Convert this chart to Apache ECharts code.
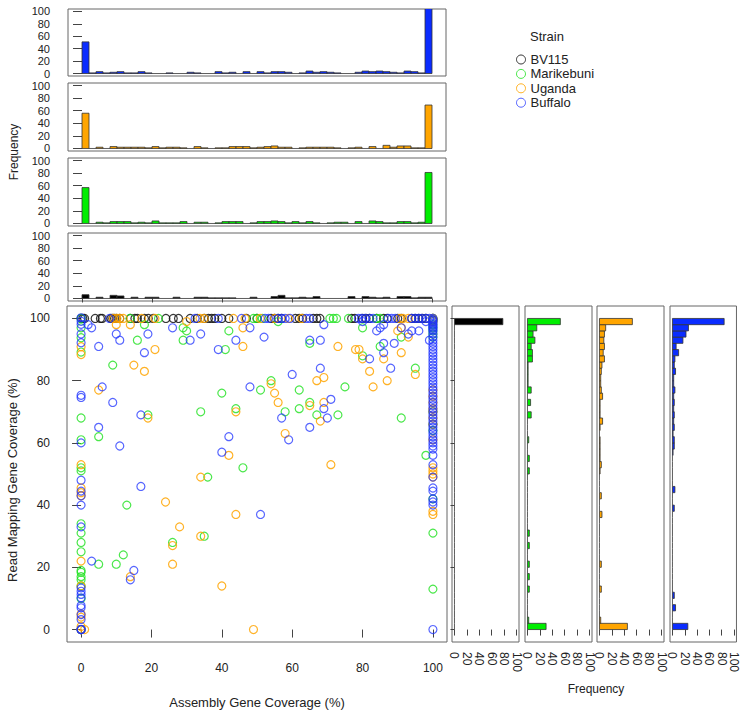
<!DOCTYPE html>
<html><head><meta charset="utf-8">
<script src="https://cdn.jsdelivr.net/npm/echarts@6.0.0/dist/echarts.min.js"></script>
<style>html,body{margin:0;padding:0;background:#fff}#c{width:740px;height:711px}</style>
</head><body><div id="c"></div>
<script>
// ---------------- DATA ----------------
const strains = ['BV115', 'Marikebuni', 'Uganda', 'Buffalo'];
const tickValues = [0, 20, 40, 60, 80, 100];
const binEdges = [0,2,4,6,8,10,12,14,16,18,20,22,24,26,28,30,32,34,36,38,40,42,44,46,48,50,52,54,56,58,60,62,64,66,68,70,72,74,76,78,80,82,84,86,88,90,92,94,96,98,100];

// Histograms of assembly gene coverage (top panels), 50 bins of width 2
const topBuffalo    = [51,1,3,1,2,3,1,1,3,1, 0,0,1,0,0,2,1,0,0,3, 1,2,0,3,0,3,1,3,3,2, 0,1,4,2,3,2,1,0,0,2, 4,3,4,3,2,1,4,3,1,110];
const topUganda     = [56,0,2,0,3,2,2,2,2,1, 3,1,2,2,1,0,3,1,0,1, 1,3,3,3,1,2,3,4,2,2, 0,1,2,2,2,2,1,0,1,2, 0,3,0,5,2,4,4,1,1,69];
const topMarikebuni = [57,0,2,1,3,3,3,1,2,1, 4,1,1,1,3,0,2,2,0,1, 3,3,3,0,1,3,3,4,3,1, 3,1,3,1,0,1,2,2,0,3, 0,4,3,1,1,3,3,1,2,81];
const topBV115      = [6,0,2,0,5,4,0,2,0,2, 2,0,0,2,0,0,2,2,1,1, 1,1,0,0,2,0,0,3,5,1, 1,2,1,3,0,0,0,0,3,0, 3,2,1,2,0,3,3,1,2,2];

// Histograms of read mapping gene coverage (right panels), 50 bins of width 2
const rightBV115      = [0,0,0,0,0,0,0,0,0,0, 0,0,0,0,0,0,0,0,0,0, 0,0,0,0,0,0,0,0,0,0, 0,0,0,0,0,0,0,0,0,0, 0,0,0,0,0,0,0,0,0,78];
const rightMarikebuni = [30,2,0,0,0,0,3,0,3,0, 3,0,0,3,0,3,0,0,0,0, 0,0,0,0,0,3,0,3,0,0, 2,0,0,0,6,0,5,0,6,1, 1,1,1,8,8,6,12,9,15,53];
const rightUganda     = [45,2,0,0,0,0,3,0,0,0, 3,0,0,0,0,0,0,0,4,0, 0,3,0,0,0,1,3,1,1,1, 1,0,1,5,1,1,1,5,3,2, 2,3,4,8,6,8,7,8,10,53];
const rightBuffalo    = [25,0,0,5,0,3,0,0,0,0, 0,0,0,0,0,0,0,0,0,3, 0,0,4,0,0,0,0,0,1,3, 3,1,3,2,3,2,3,2,4,2, 2,5,3,4,10,6,17,22,26,84];

// Scatter points [assembly coverage, read mapping coverage]
const bv115Points = [[0,100],[0.5,100],[1,100],[4,100],[5.5,100],[6,100],[8.5,100],[9,100],[9.5,100],[10,100],[11,100],[14,100],[15.3,100],[16,100],[18,100],[19.1,100],[20.5,100],[24.1,100],[26.2,100],[27.7,100],[31,100],[33,100],[35,100],[36.2,100],[37.1,100],[38,100],[40,100],[42,100],[47,100],[50,100],[54,100],[55,100],[56,100],[57,100],[60.9,100],[62,100],[63,100],[66,100],[67,100],[67.9,100],[76.9,100],[77.8,100],[80,100],[81,100],[82,100],[84,100],[86,100],[87,100],[90,100],[91,100],[94,100],[95,100],[96,100],[97,100],[98,100],[100,100],[100,99.5]];

const marikebuniPoints = [[0,100],[0,97],[0,93.8],[0,89.2],[0,68],[0,61],[0,52],[0,51],[0,34],[0,31],[0,28],[0,25],[0,19],[0,18.4],[0,17],[0,16],[0,14],[0,10],[0,0],[0,0],
 [13.9,100],[22,100],[49,100],[50,100],[51.5,100],[70.7,100],[71.7,100],[72.6,100],[76,100],[84,100],[85,100],
 [9,85],[18,98],[16,93],[19,69],[29,97],[30,96],[29,93],[34,70],[36,49],[41,90],[40,76],[42,96],[44,71],[46,52],[51,77],[54,80],[56,99],[62,77],[62,71],[58,70],[65,92],[65,73],[67,69],[73,69],[75,78],[80,88],[80,97],[85,91],[91,68],[91,94],[95,84],[98,56],[5,62],[13,40],[35,30],[26,28],[12,24],[5,21],[10,21],
 [100,100],[100,99],[100,98],[100,97],[100,96],[100,95],[100,94],[100,70],[100,66],[100,64],[100,42],[100,31],[100,13]];

const ugandaPoints = [[0,90.9],[0,88.4],[0,53],[0,45.5],[0,44],[0,43],[0,22],[0,14],[0,5],[0,4],[0,1],[0,0],[0,0],[1,0],
 [9.2,100],[10.2,100],[11,100],[12,100],[17.2,100],[21,100],[33.8,100],[35,100],[43.3,100],[46.6,100],[50.9,100],[55,100],[58.9,100],[62.7,100],[90.6,100],[91.5,100],[93,100],
 [10,98],[14,98],[5,77],[15,85],[18,83],[21,90],[19,68],[30,99],[34,49],[46,91],[46,97],[42,56],[44,70],[54,79],[55,76],[56,73],[58,63],[67,80],[69,81],[65,72],[69,73],[68,67],[73,91],[71,53],[78,90],[79,90],[80,87],[82,83],[83,78],[87,80],[86,87],[91,89],[90,96],[91,97],[93,94],[95,82],[24,41],[44,37],[28,33],[34,30],[26,27],[26,21],[14,17],[40,14],[49,0],
 [100,100],[100,99],[100,77],[100,75],[100,73],[100,71],[100,70],[100,68],[100,66],[100,61],[100,52],[100,51],[100,50],[100,49],[100,38],[100,37]];

const buffaloPoints = [[0,100.2],[0,99.1],[0,98.1],[0,95],[0,92.2],[0,75.3],[0,74.6],[0,60],[0,48],[0,44.5],[0,43],[0,40],[0,33],[0,13.4],[0,12.3],[0,11.3],[0,10.2],[0,7.7],[0,7],[0,4.8],[0,3.2],[0,0],[0,0],[0,0],
 [8.1,100],[32.4,100],[39,100],[45.6,100],[52.3,100],[53.3,100],[56,100],[57,100],[58,100],[59.4,100],[64,100],[65,100],[78.8,100],[79.7,100],[80.7,100],[82,100],[83,100],[87.3,100],[88.3,100],[89.3,100],[93.9,100],[94.9,100],[95.9,100],[96.8,100],[98,100],[99,100],
 [2,98],[3,97],[5,91],[6,78],[9,73],[5,65],[11,59],[10,95],[11,93],[18,89],[19,95],[17,69],[17,46],[26,97],[31,93],[34,95],[39,90],[44,93],[48,97],[42,62],[40,57],[48,78],[52,94],[60,82],[57,68],[59,61],[65,93],[68,93],[69,98],[68,84],[69,71],[71,74],[70,68],[65,65],[80,99],[82,87],[88,84],[84,96],[85,97],[86,98],[86,92],[86,89],[89,92],[91,97],[93,95],[94,96],[96,96],[98,99],[99,93],[51,37],[3,22],[15,19],[14,16],
 [100,100],[100,99.5],[100,99],[100,98.5],[100,98],[100,97.5],[100,97],[100,96.5],[100,96],[100,95],[100,94],[100,93],[100,92],[100,91],[100,90],[100,89],[100,88],[100,87],[100,86],[100,85],[100,84],[100,83],[100,82],[100,81],[100,80],[100,79],[100,78],[100,77],[100,76],[100,75],[100,74],[100,73],[100,72],[100,71],[100,70],[100,69],[100,68],[100,67],[100,66],[100,65],[100,64],[100,63],[100,62],[100,61],[100,60],[100,59],[100,58],[100,56],[100,53],[100,49],[100,45.5],[100,44.5],[100,42],[100,41],[100,40],[100,0]];

// ---------------- STYLE ----------------
const FONT = "'Liberation Sans', Arial, Helvetica, sans-serif";
const TXT = '#222';
const barColors = {BV115: '#000000', Marikebuni: '#00ee00', Uganda: '#ffa500', Buffalo: '#0a2cff'};
const ptColors = {BV115: 'rgba(20,20,20,0.85)', Marikebuni: 'rgba(30,225,30,0.8)', Uganda: 'rgba(255,165,0,0.85)', Buffalo: 'rgba(30,50,255,0.75)'};

const chart = echarts.init(document.getElementById('c'), null, {renderer: 'svg'});

const grids = [
  {left: 68, top: 9, width: 378, height: 67},
  {left: 68, top: 83, width: 378, height: 68},
  {left: 68, top: 158, width: 378, height: 68},
  {left: 68, top: 233, width: 378, height: 68},
  {left: 67, top: 306, width: 380, height: 336},
  {left: 452, top: 306, width: 67, height: 336},
  {left: 525, top: 306, width: 67, height: 336},
  {left: 597, top: 306, width: 67, height: 336},
  {left: 670, top: 306, width: 67, height: 336}
].map(g => Object.assign({show: true, borderColor: '#666', borderWidth: 1, backgroundColor: 'transparent'}, g));

function axis(gridIndex, extra) {
  return Object.assign({
    type: 'value', gridIndex: gridIndex, min: -4, max: 104,
    axisLine: {show: false}, splitLine: {show: false},
    axisTick: {show: false}, axisLabel: {show: false}
  }, extra || {});
}
const ticks = len => ({show: true, length: len, customValues: tickValues, lineStyle: {color: '#444', width: 1}});
const labels = extra => Object.assign({show: true, customValues: tickValues, color: TXT, fontSize: 12, fontFamily: FONT}, extra || {});
const topLabels = () => labels({margin: 18, fontSize: 11, lineHeight: 10});

const xAxes = [
  axis(0), axis(1), axis(2),
  axis(3, {axisTick: ticks(4)}),
  axis(4, {axisTick: ticks(8), axisLabel: labels({margin: 20})}),
  axis(5, {axisTick: ticks(6), axisLabel: labels({rotate: -90, margin: 10})}),
  axis(6, {axisTick: ticks(6), axisLabel: labels({rotate: -90, margin: 10})}),
  axis(7, {axisTick: ticks(6), axisLabel: labels({rotate: -90, margin: 10})}),
  axis(8, {axisTick: ticks(6), axisLabel: labels({rotate: -90, margin: 10})})
];
const yAxes = [
  axis(0, {axisTick: ticks(9), axisLabel: topLabels()}),
  axis(1, {axisTick: ticks(9), axisLabel: topLabels()}),
  axis(2, {axisTick: ticks(9), axisLabel: topLabels()}),
  axis(3, {axisTick: ticks(9), axisLabel: topLabels()}),
  axis(4, {axisTick: ticks(9), axisLabel: labels({margin: 17})}),
  axis(5, {axisTick: ticks(4)}),
  axis(6), axis(7), axis(8)
];

function histData(counts) {
  return counts.map((c, i) => [binEdges[i], binEdges[i + 1], c]);
}
const outline = {stroke: '#333', lineWidth: 0.8};
function vHist(name, counts, idx) {
  const color = barColors[name];
  return {
    type: 'custom', name: 'top-' + name, xAxisIndex: idx, yAxisIndex: idx, clip: true,
    data: histData(counts), silent: true,
    renderItem: function (params, api) {
      const p0 = api.coord([api.value(0), api.value(2)]);
      const p1 = api.coord([api.value(1), 0]);
      if (api.value(2) === 0) {
        return {type: 'line', shape: {x1: p0[0], y1: p1[1], x2: p1[0], y2: p1[1]}, style: outline};
      }
      return {type: 'rect', shape: {x: p0[0], y: p0[1], width: p1[0] - p0[0], height: p1[1] - p0[1]},
        style: Object.assign({fill: color}, outline)};
    }
  };
}
function hHist(name, counts, idx) {
  const color = barColors[name];
  return {
    type: 'custom', name: 'right-' + name, xAxisIndex: idx, yAxisIndex: idx, clip: true,
    data: histData(counts), silent: true,
    renderItem: function (params, api) {
      const p0 = api.coord([0, api.value(1)]);
      const p1 = api.coord([api.value(2), api.value(0)]);
      if (api.value(2) === 0) {
        return {type: 'line', shape: {x1: p0[0], y1: p0[1], x2: p0[0], y2: p1[1]}, style: outline};
      }
      return {type: 'rect', shape: {x: p0[0], y: p0[1], width: p1[0] - p0[0], height: p1[1] - p0[1]},
        style: Object.assign({fill: color}, outline)};
    }
  };
}
function scatter(name, pts) {
  return {
    type: 'scatter', name: name, xAxisIndex: 4, yAxisIndex: 4, data: pts,
    symbol: 'circle', symbolSize: 8,
    itemStyle: {color: 'rgba(0,0,0,0)', borderColor: ptColors[name], borderWidth: 1.2, opacity: 1},
    emphasis: {disabled: true}
  };
}

const option = {
  animation: false,
  backgroundColor: '#fff',
  textStyle: {fontFamily: FONT},
  title: {text: 'Strain', left: 530, top: 30, padding: 0,
    textStyle: {fontSize: 13, fontWeight: 'normal', color: TXT, fontFamily: FONT}},
  legend: {
    orient: 'vertical', left: 516, top: 53, padding: 0,
    itemWidth: 9, itemHeight: 9, itemGap: 1.4,
    data: strains,
    itemStyle: {borderWidth: 1},
    textStyle: {fontSize: 13, color: TXT, fontFamily: FONT},
    selectedMode: false
  },
  grid: grids,
  xAxis: xAxes,
  yAxis: yAxes,
  graphic: [
    {type: 'text', x: 14, y: 152, rotation: Math.PI / 2,
      style: {text: 'Frequency', fill: TXT, font: '12px ' + FONT, align: 'center', verticalAlign: 'middle'}},
    {type: 'text', x: 12, y: 480, rotation: Math.PI / 2,
      style: {text: 'Read Mapping Gene Coverage (%)', fill: TXT, font: '13px ' + FONT, align: 'center', verticalAlign: 'middle'}},
    {type: 'text', x: 257, y: 702,
      style: {text: 'Assembly Gene Coverage (%)', fill: TXT, font: '13px ' + FONT, align: 'center', verticalAlign: 'middle'}},
    {type: 'text', x: 596, y: 689,
      style: {text: 'Frequency', fill: TXT, font: '12px ' + FONT, align: 'center', verticalAlign: 'middle'}}
  ],
  series: [
    vHist('Buffalo', topBuffalo, 0),
    vHist('Uganda', topUganda, 1),
    vHist('Marikebuni', topMarikebuni, 2),
    vHist('BV115', topBV115, 3),
    hHist('BV115', rightBV115, 5),
    hHist('Marikebuni', rightMarikebuni, 6),
    hHist('Uganda', rightUganda, 7),
    hHist('Buffalo', rightBuffalo, 8),
    scatter('BV115', bv115Points),
    scatter('Marikebuni', marikebuniPoints),
    scatter('Uganda', ugandaPoints),
    scatter('Buffalo', buffaloPoints)
  ]
};
chart.setOption(option);
</script>
</body></html>
